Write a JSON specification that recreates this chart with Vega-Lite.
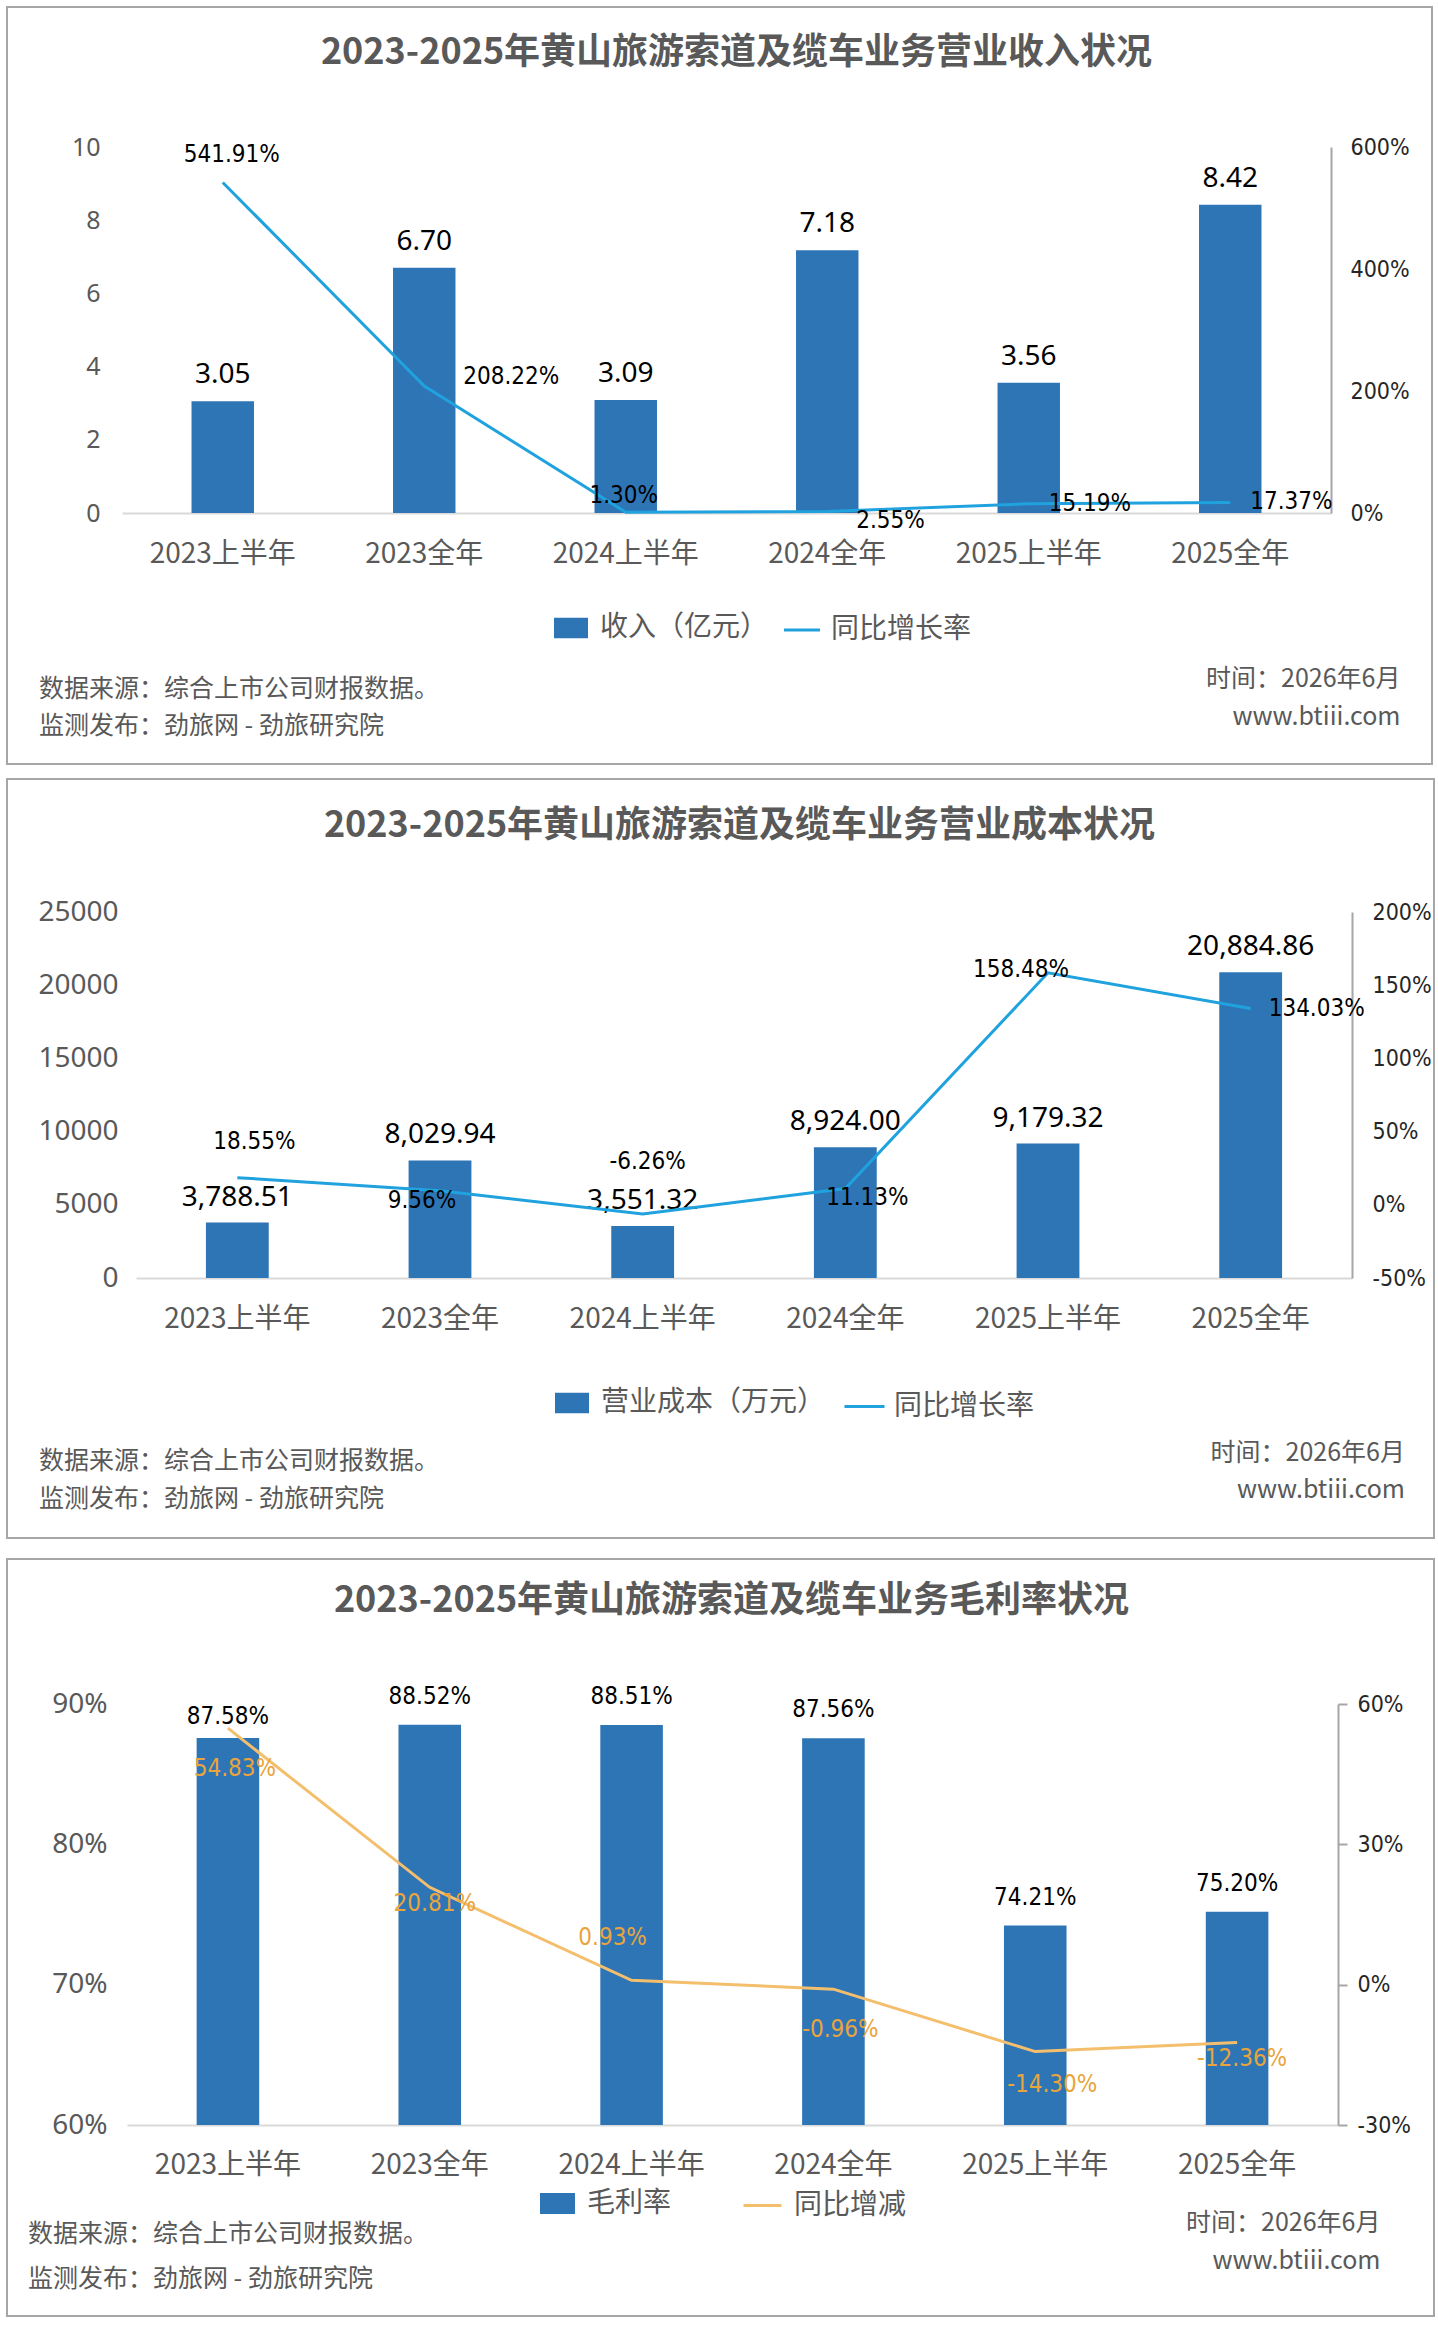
{
  "$schema": "https://vega.github.io/schema/vega-lite/v6.json",
  "background": "white",
  "padding": {"left": 6, "top": 6, "right": 3, "bottom": 8},
  "datasets": {
    "income": [
      {"period": "2023上半年", "revenue": 3.05, "yoy": 5.4191},
      {"period": "2023全年", "revenue": 6.70, "yoy": 2.0822},
      {"period": "2024上半年", "revenue": 3.09, "yoy": 0.0130},
      {"period": "2024全年", "revenue": 7.18, "yoy": 0.0255},
      {"period": "2025上半年", "revenue": 3.56, "yoy": 0.1519},
      {"period": "2025全年", "revenue": 8.42, "yoy": 0.1737}
    ],
    "cost": [
      {"period": "2023上半年", "cost": 3788.51, "yoy": 0.1855},
      {"period": "2023全年", "cost": 8029.94, "yoy": 0.0956},
      {"period": "2024上半年", "cost": 3551.32, "yoy": -0.0626},
      {"period": "2024全年", "cost": 8924.00, "yoy": 0.1113},
      {"period": "2025上半年", "cost": 9179.32, "yoy": 1.5848},
      {"period": "2025全年", "cost": 20884.86, "yoy": 1.3403}
    ],
    "margin": [
      {"period": "2023上半年", "margin": 0.8758, "change": 0.5483},
      {"period": "2023全年", "margin": 0.8852, "change": 0.2081},
      {"period": "2024上半年", "margin": 0.8851, "change": 0.0093},
      {"period": "2024全年", "margin": 0.8756, "change": -0.0096},
      {"period": "2025上半年", "margin": 0.7421, "change": -0.1430},
      {"period": "2025全年", "margin": 0.7520, "change": -0.1236}
    ]
  },
  "resolve": {"scale": {"x": "independent", "y": "independent", "color": "independent", "stroke": "independent"}},
  "spacing": 19,
  "vconcat": [
    {
      "resolve": {"scale": {"x": "independent", "y": "independent", "color": "independent", "stroke": "independent"}},
      "spacing": 13,
      "vconcat": [
        {
          "width": 1425,
          "height": 757,
          "title": {"text": "2023-2025年黄山旅游索道及缆车业务营业收入状况", "offset": -65, "dx": 17},
          "data": {"name": "income"},
          "encoding": {
            "x": {
              "field": "period", "type": "nominal", "sort": null,
              "scale": {"range": [115, 1324], "paddingInner": 0.69, "paddingOuter": 0.345},
              "axis": {"offset": -251, "labelPadding": 27}
            }
          },
          "layer": [
            {
              "encoding": {
                "y": {
                  "field": "revenue", "type": "quantitative",
                  "scale": {"domain": [0, 10], "range": [506, 140], "nice": false},
                  "axis": {
                    "orient": "left", "offset": -100, "values": [0, 2, 4, 6, 8, 10],
                    "labelFontSize": 25, "style": "leftAxis",
                    "title": ["数据来源：综合上市公司财报数据。", "监测发布：劲旅网 - 劲旅研究院"],
                    "titleAlign": "left", "titleX": -68.5, "titleY": 689, "titleLineHeight": 37.5
                  }
                }
              },
              "layer": [
                {
                  "mark": {"type": "bar"},
                  "encoding": {
                    "color": {
                      "datum": "收入（亿元）",
                      "scale": {"range": ["#2e75b6"]},
                      "legend": {"legendX": 546, "legendY": 603, "symbolType": "M-1,-0.6H1V0.6H-1Z", "symbolSize": 1156, "labelOffset": 11}
                    }
                  }
                },
                {
                  "mark": {"type": "text", "style": "barLabel", "dy": -26},
                  "encoding": {"text": {"field": "revenue", "type": "quantitative", "format": ".2f"}}
                }
              ]
            },
            {
              "encoding": {
                "y": {
                  "field": "yoy", "type": "quantitative",
                  "scale": {"domain": [0, 6], "range": [506, 140], "nice": false},
                  "axis": {
                    "orient": "right", "offset": -101, "values": [0, 2, 4, 6], "format": ".0%",
                    "style": "rightAxis", "labelPadding": 19, "ticks": false,
                    "title": ["时间：2026年6月", "www.btiii.com"],
                    "titleAlign": "right", "titleX": 69, "titleY": 679, "titleLineHeight": 38
                  }
                }
              },
              "layer": [
                {
                  "mark": {"type": "line", "strokeWidth": 3},
                  "encoding": {
                    "stroke": {
                      "datum": "同比增长率",
                      "scale": {"range": ["#1fa2de"]},
                      "legend": {"legendX": 775, "legendY": 603, "symbolType": "stroke", "symbolSize": 1300, "symbolStrokeWidth": 3, "labelOffset": 9}
                    }
                  }
                },
                {
                  "transform": [{"filter": {"field": "period", "equal": "2023上半年"}}],
                  "mark": {"type": "text", "style": "lineLabel", "dx": 9, "dy": -27},
                  "encoding": {"text": {"field": "yoy", "type": "quantitative", "format": ".2%"}}
                },
                {
                  "transform": [{"filter": {"field": "period", "equal": "2024上半年"}}],
                  "mark": {"type": "text", "style": "lineLabel", "dx": -2, "dy": -16},
                  "encoding": {"text": {"field": "yoy", "type": "quantitative", "format": ".2%"}}
                },
                {
                  "transform": [{"filter": {"field": "period", "equal": "2023全年"}}],
                  "mark": {"type": "text", "style": "lineLabel", "align": "left", "dx": 39, "dy": -9},
                  "encoding": {"text": {"field": "yoy", "type": "quantitative", "format": ".2%"}}
                },
                {
                  "transform": [{"filter": {"field": "period", "equal": "2024全年"}}],
                  "mark": {"type": "text", "style": "lineLabel", "align": "left", "dx": 29, "dy": 10},
                  "encoding": {"text": {"field": "yoy", "type": "quantitative", "format": ".2%"}}
                },
                {
                  "transform": [{"filter": {"field": "period", "oneOf": ["2025上半年", "2025全年"]}}],
                  "mark": {"type": "text", "style": "lineLabel", "align": "left", "dx": 20, "dy": 0},
                  "encoding": {"text": {"field": "yoy", "type": "quantitative", "format": ".2%"}}
                }
              ]
            }
          ],
          "resolve": {"scale": {"y": "independent"}}
        },
        {
          "width": 1427,
          "height": 759,
          "title": {"text": "2023-2025年黄山旅游索道及缆车业务营业成本状况", "offset": -65.5, "dx": 19},
          "data": {"name": "cost"},
          "encoding": {
            "x": {
              "field": "period", "type": "nominal", "sort": null,
              "scale": {"range": [129, 1345], "paddingInner": 0.69, "paddingOuter": 0.345},
              "axis": {"offset": -260, "labelPadding": 27}
            }
          },
          "layer": [
            {
              "encoding": {
                "y": {
                  "field": "cost", "type": "quantitative",
                  "scale": {"domain": [0, 25000], "range": [499, 133], "nice": false},
                  "axis": {
                    "orient": "left", "offset": -118, "values": [0, 5000, 10000, 15000, 20000, 25000], "format": "d",
                    "labelFontSize": 28, "style": "leftAxis",
                    "title": ["数据来源：综合上市公司财报数据。", "监测发布：劲旅网 - 劲旅研究院"],
                    "titleAlign": "left", "titleX": -86.5, "titleY": 689.5, "titleLineHeight": 38
                  }
                }
              },
              "layer": [
                {
                  "mark": {"type": "bar"},
                  "encoding": {
                    "color": {
                      "datum": "营业成本（万元）",
                      "scale": {"range": ["#2e75b6"]},
                      "legend": {"legendX": 547, "legendY": 606, "symbolType": "M-1,-0.6H1V0.6H-1Z", "symbolSize": 1156, "labelOffset": 11}
                    }
                  }
                },
                {
                  "mark": {"type": "text", "style": "barLabel", "dy": -25},
                  "encoding": {"text": {"field": "cost", "type": "quantitative", "format": ",.2f"}}
                }
              ]
            },
            {
              "encoding": {
                "y": {
                  "field": "yoy", "type": "quantitative",
                  "scale": {"domain": [-0.5, 2], "range": [499, 133], "nice": false},
                  "axis": {
                    "orient": "right", "offset": -82, "values": [-0.5, 0, 0.5, 1, 1.5, 2], "format": ".0%",
                    "style": "rightAxis", "labelPadding": 20, "ticks": false,
                    "title": ["时间：2026年6月", "www.btiii.com"],
                    "titleAlign": "right", "titleX": 52.5, "titleY": 681, "titleLineHeight": 37.5
                  }
                }
              },
              "layer": [
                {
                  "mark": {"type": "line", "strokeWidth": 3},
                  "encoding": {
                    "stroke": {
                      "datum": "同比增长率",
                      "scale": {"range": ["#1fa2de"]},
                      "legend": {"legendX": 836, "legendY": 606, "symbolType": "stroke", "symbolSize": 1600, "symbolStrokeWidth": 3, "labelOffset": 8}
                    }
                  }
                },
                {
                  "transform": [{"filter": {"field": "period", "equal": "2023上半年"}}],
                  "mark": {"type": "text", "style": "lineLabel", "dx": 17, "dy": -36},
                  "encoding": {"text": {"field": "yoy", "type": "quantitative", "format": ".2%"}}
                },
                {
                  "transform": [{"filter": {"field": "period", "equal": "2023全年"}}],
                  "mark": {"type": "text", "style": "lineLabel", "dx": -18, "dy": 10},
                  "encoding": {"text": {"field": "yoy", "type": "quantitative", "format": ".2%"}}
                },
                {
                  "transform": [{"filter": {"field": "period", "equal": "2024上半年"}}],
                  "mark": {"type": "text", "style": "lineLabel", "dx": 5, "dy": -52},
                  "encoding": {"text": {"field": "yoy", "type": "quantitative", "format": ".2%"}}
                },
                {
                  "transform": [{"filter": {"field": "period", "equal": "2024全年"}}],
                  "mark": {"type": "text", "style": "lineLabel", "dx": 22, "dy": 9},
                  "encoding": {"text": {"field": "yoy", "type": "quantitative", "format": ".2%"}}
                },
                {
                  "transform": [{"filter": {"field": "period", "equal": "2025上半年"}}],
                  "mark": {"type": "text", "style": "lineLabel", "dx": -27, "dy": -3},
                  "encoding": {"text": {"field": "yoy", "type": "quantitative", "format": ".2%"}}
                },
                {
                  "transform": [{"filter": {"field": "period", "equal": "2025全年"}}],
                  "mark": {"type": "text", "style": "lineLabel", "align": "left", "dx": 18, "dy": 0},
                  "encoding": {"text": {"field": "yoy", "type": "quantitative", "format": ".2%"}}
                }
              ]
            }
          ],
          "resolve": {"scale": {"y": "independent"}}
        }
      ]
    },
    {
      "width": 1427,
      "height": 757,
      "title": {"text": "2023-2025年黄山旅游索道及缆车业务毛利率状况", "offset": -60.5, "dx": 11},
      "data": {"name": "margin"},
      "encoding": {
        "x": {
          "field": "period", "type": "nominal", "sort": null,
          "scale": {"range": [120, 1331], "paddingInner": 0.69, "paddingOuter": 0.345},
          "axis": {"offset": -191, "labelPadding": 26}
        }
      },
      "layer": [
        {
          "encoding": {
            "y": {
              "field": "margin", "type": "quantitative",
              "scale": {"domain": [0.6, 0.9], "range": [566, 145], "nice": false, "zero": false},
              "axis": {
                "orient": "left", "offset": -107, "values": [0.6, 0.7, 0.8, 0.9], "format": ".0%",
                "labelFontSize": 28, "style": "leftAxis",
                "title": ["数据来源：综合上市公司财报数据。", "监测发布：劲旅网 - 劲旅研究院"],
                "titleAlign": "left", "titleX": -86.5, "titleY": 682.5, "titleLineHeight": 45
              }
            }
          },
          "layer": [
            {
              "mark": {"type": "bar"},
              "encoding": {
                "y2": {"datum": 0.6},
                "color": {
                  "datum": "毛利率",
                  "scale": {"range": ["#2e75b6"]},
                  "legend": {"legendX": 532, "legendY": 626, "symbolType": "M-1,-0.6H1V0.6H-1Z", "symbolSize": 1225, "labelOffset": 11}
                }
              }
            },
            {
              "transform": [{"filter": {"field": "period", "equal": "2023上半年"}}],
              "mark": {"type": "text", "style": "lineLabel", "dy": -21},
              "encoding": {"text": {"field": "margin", "type": "quantitative", "format": ".2%"}}
            },
            {
              "transform": [{"filter": {"field": "period", "oneOf": ["2023全年", "2024上半年", "2024全年", "2025上半年", "2025全年"]}}],
              "mark": {"type": "text", "style": "lineLabel", "dy": -28},
              "encoding": {"text": {"field": "margin", "type": "quantitative", "format": ".2%"}}
            }
          ]
        },
        {
          "encoding": {
            "y": {
              "field": "change", "type": "quantitative",
              "scale": {"domain": [-0.3, 0.6], "range": [566, 145], "nice": false},
              "axis": {
                "orient": "right", "offset": -96, "values": [-0.3, 0, 0.3, 0.6], "format": ".0%",
                "style": "rightAxis", "labelPadding": 10, "ticks": true, "tickSize": 9, "tickColor": "#a6a6a6", "tickWidth": 2,
                "title": ["时间：2026年6月", "www.btiii.com"],
                "titleAlign": "right", "titleX": 42, "titleY": 671.5, "titleLineHeight": 38
              }
            }
          },
          "layer": [
            {
              "mark": {"type": "line", "strokeWidth": 3},
              "encoding": {
                "stroke": {
                  "datum": "同比增减",
                  "scale": {"range": ["#f4bf6d"]},
                  "legend": {"legendX": 735, "legendY": 626, "symbolType": "stroke", "symbolSize": 1444, "symbolStrokeWidth": 3, "labelOffset": 11}
                }
              }
            },
            {
              "transform": [{"filter": {"field": "period", "oneOf": ["2023上半年", "2024全年"]}}],
              "mark": {"type": "text", "style": "lineLabel", "color": "#e9a43c", "dx": 7, "dy": 41},
              "encoding": {"text": {"field": "change", "type": "quantitative", "format": ".2%"}}
            },
            {
              "transform": [{"filter": {"field": "period", "oneOf": ["2023全年", "2025全年"]}}],
              "mark": {"type": "text", "style": "lineLabel", "color": "#e9a43c", "dx": 5, "dy": 17},
              "encoding": {"text": {"field": "change", "type": "quantitative", "format": ".2%"}}
            },
            {
              "transform": [{"filter": {"field": "period", "equal": "2024上半年"}}],
              "mark": {"type": "text", "style": "lineLabel", "color": "#e9a43c", "dx": -19, "dy": -42},
              "encoding": {"text": {"field": "change", "type": "quantitative", "format": ".2%"}}
            },
            {
              "transform": [{"filter": {"field": "period", "equal": "2025上半年"}}],
              "mark": {"type": "text", "style": "lineLabel", "color": "#e9a43c", "dx": 17, "dy": 33},
              "encoding": {"text": {"field": "change", "type": "quantitative", "format": ".2%"}}
            }
          ]
        }
      ],
      "resolve": {"scale": {"y": "independent"}}
    }
  ],
  "config": {
    "font": "Noto Sans CJK SC",
    "locale": {"number": {"decimal": ".", "thousands": ",", "grouping": [3], "currency": ["", ""], "minus": "-"}},
    "view": {"stroke": "#a6a6a6", "strokeWidth": 2},
    "title": {
      "frame": "group", "anchor": "middle", "baseline": "alphabetic",
      "font": "Noto Sans CJK SC", "fontSize": 36, "fontWeight": "bold", "color": "#595959"
    },
    "axis": {
      "title": null, "grid": false, "ticks": false, "domain": false,
      "labelFont": "Noto Sans CJK SC", "labelFontSize": 28, "labelColor": "#595959", "labelAngle": 0,
      "domainColor": "#d9d9d9", "domainWidth": 2
    },
    "axisX": {"domain": true, "labelFont": "Noto Sans CJK SC", "labelFontSize": 28},
    "style": {
      "leftAxis": {"labelFont": "Noto Sans", "labelPadding": 7, "titleAngle": 0, "titleBaseline": "alphabetic", "titleFont": "Noto Sans CJK SC", "titleFontSize": 25, "titleFontWeight": "normal", "titleColor": "#595959"},
      "rightAxis": {"domain": true, "domainColor": "#a6a6a6", "labelFont": "DejaVu Sans Condensed, Liberation Sans Narrow, Noto Sans", "labelFontSize": 23, "labelColor": "#262626", "titleAngle": 0, "titleBaseline": "alphabetic", "titleFont": "Noto Sans CJK SC", "titleFontSize": 25, "titleFontWeight": "normal", "titleColor": "#595959"},
      "barLabel": {"font": "Noto Sans", "fontSize": 28, "fill": "#595959", "baseline": "middle", "align": "center"},
      "lineLabel": {"font": "DejaVu Sans Condensed, Liberation Sans Narrow, Noto Sans", "fontSize": 24, "fill": "#1a1a1a", "baseline": "middle", "align": "center"}
    },
    "legend": {
      "orient": "none", "title": null, "padding": 0,
      "labelFont": "Noto Sans CJK SC", "labelFontSize": 28, "labelColor": "#595959", "labelLimit": 400
    }
  }
}
